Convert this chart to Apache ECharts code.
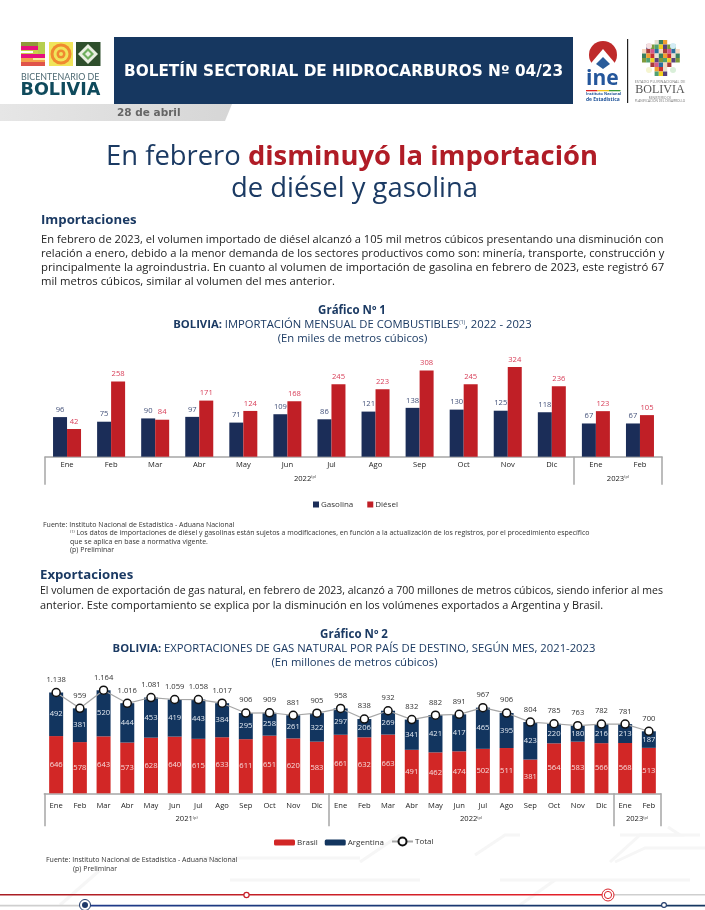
<!DOCTYPE html>
<html><head><meta charset="utf-8">
<style>html,body{margin:0;padding:0;background:#fff}#c{width:705px;height:910px}</style>
<script src="https://cdn.jsdelivr.net/npm/echarts@6/dist/echarts.min.js"></script>
</head><body><div id="c"></div>
<script>
const months1=['Ene','Feb','Mar','Abr','May','Jun','Jul','Ago','Sep','Oct','Nov','Dic','Ene','Feb'];
const gasolina=[96,75,90,97,71,109,86,121,138,130,125,118,67,67];
const diesel=[42,258,84,171,124,168,245,223,308,245,324,236,123,105];
const months2=['Ene','Feb','Mar','Abr','May','Jun','Jul','Ago','Sep','Oct','Nov','Dic','Ene','Feb','Mar','Abr','May','Jun','Jul','Ago','Sep','Oct','Nov','Dic','Ene','Feb'];
const brasil=[646,578,643,573,628,640,615,633,611,651,620,583,661,632,663,491,462,474,502,511,381,564,583,566,568,513];
const argentina=[492,381,520,444,453,419,443,384,295,258,261,322,297,206,269,341,421,417,465,395,423,220,180,216,213,187];
const totalGas=[1138,959,1164,1016,1081,1059,1058,1017,906,909,881,905,958,838,932,832,882,891,967,906,804,785,763,782,781,700];
const para1=['En febrero de 2023, el volumen importado de diésel alcanzó a 105 mil metros cúbicos presentando una disminución con',
'relación a enero, debido a la menor demanda de los sectores productivos como son: minería, transporte, construcción y',
'principalmente la agroindustria. En cuanto al volumen de importación de gasolina en febrero de 2023, este registró 67',
'mil metros cúbicos, similar al volumen del mes anterior.'];
const para2=['El volumen de exportación de gas natural, en febrero de 2023, alcanzó a 700 millones de metros cúbicos, siendo inferior al mes',
'anterior. Este comportamiento se explica por la disminución en los volúmenes exportados a Argentina y Brasil.'];
const para1Sizes=[11.13,11.17,11.33,11.3];
const para2Sizes=[10.54,10.95];

const F='"Open Sans"', NAVY='#1b3a63', AX='#a6a6a6';
const G=[];
function T(text,x,y,size,fill,o){o=o||{};G.push({type:'text',silent:true,z:o.z||5,style:Object.assign({text,x,y,fontFamily:o.family||F,fontSize:size,fontWeight:o.weight||'normal',fill,textAlign:o.align||'left',textVerticalAlign:'middle',rich:o.rich},o.extra||{})});}
function R(x,y,w,h,fill,z){G.push({type:'rect',silent:true,z:z||1,shape:{x,y,width:w,height:h},style:{fill}});}
function P(points,fill,z){G.push({type:'polygon',silent:true,z:z||2,shape:{points},style:{fill}});}
function C(cx,cy,r,fill,stroke,lw,z){G.push({type:'circle',silent:true,z:z||3,shape:{cx,cy,r},style:{fill,stroke,lineWidth:lw||0}});}
function W(points){G.push({type:'polyline',silent:true,z:0,shape:{points},style:{stroke:'#f6f6f6',lineWidth:3,fill:null}});}
const H=(s)=>({type:'linear',x:0,y:0,x2:1,y2:0,colorStops:s});

// faint watermark
W([[620,835],[680,835],[668,827]]);W([[610,862],[640,835],[700,835]]);W([[615,862],[645,848],[705,848]]);
W([[475,855],[505,835],[520,835]]);W([[200,858],[360,858]]);W([[230,880],[420,880]]);W([[500,880],[690,880]]);W([[60,905],[100,870]]);W([[520,905],[555,880]]);W([[360,862],[400,835]]);

// header
R(114,37,459,67,'#163760');
T('BOLETÍN SECTORIAL DE HIDROCARBUROS Nº 04/23',124,72,15.3,'#fff',{family:'"DejaVu Sans"',weight:700});
P([[0,104],[232,104],[225,121],[0,121]],H([{offset:0,color:'#e6e6e6'},{offset:1,color:'#d6d6d6'}]));
T('28 de abril',117,113,10.5,'#666',{weight:700,family:'"DejaVu Sans"'});

// bicentenario logo
const st1=['#8f9a3a','#e6127f','#c9d24a','#e6127f','#f3a24b','#e0544a'];
st1.forEach((c,i)=>R(21,42+i*4,24,4,c,2));
R(38,42,7,12,'#b7cf4e',3);R(21,51,12,2,'#fff',3);R(33,58,12,2,'#f7f0a0',3);
R(49,42,24,24,'#f0e45a',2);[10.5,7.5,4.5,2].forEach((r,i)=>C(61,54,r,i%2?'#f0e45a':'#f08a30',null,0,3+i));
R(76,42,24.5,24,'#2f4f2c',2);P([[88,44],[98,54],[88,64],[78,54]],'#e9efe0',3);P([[88,48],[94,54],[88,60],[82,54]],'#6fae5c',4);P([[88,51],[91,54],[88,57],[85,54]],'#e9efe0',5);
T('BICENTENARIO DE',21,76.7,8.9,'#4e6a73',{family:'Lato'});
T('BOLIVIA',20.5,90.5,17.6,'#0f4a5c',{weight:700,family:'"DejaVu Sans"'});

// INE logo
C(603,55,14,'#bf2a2a',null,0,2);
P([[586,69],[603,49],[620,69]],'#fff',3);
P([[596,64],[603,57],[610,64],[603,69]],'#2a5c9a',4);
T('ine',586,79,21,'#24569b',{weight:700});
['#d22','#f2c318','#3a9b3a'].forEach((c,i)=>R(586+i*11.5,90,11.5,1.3,c,3));
T('Instituto Nacional',586,94,3.9,'#24569b',{weight:700});
T('de Estadística',586,99.5,4.9,'#24569b',{weight:700});
R(627,39,1.2,64,'#222',2);

// plurinational logo mosaic
const mos=['#e8e0d0','#a83a3a','#f2d020','#3a7f5f','#d65a8a','#58407a','#f0a030','#2a6f9f','#7f9a3a','#c83030','#f5d7c0','#50a070'];
[[3,3],[1,7],[0,9],[0,9],[0,9],[2,5],[3,3],[3,3]].forEach((rw,r)=>{for(let c=0;c<rw[1];c++){R(642+(rw[0]+c)*4.2,40+r*4.5,4.2,4.5,mos[(r*5+c*3)%mos.length],2);}});
C(649,46,3,'#f5dfe0',null,0,3);C(673,46,3,'#d3ecf5',null,0,3);C(649,70,3,'#f5f5d0',null,0,3);C(673,70,3,'#d9efd9',null,0,3);
T('ESTADO PLURINACIONAL DE',660,82,3.8,'#777',{align:'center'});
T('BOLIVIA',660,89.5,12,'#555',{align:'center',family:'"Liberation Serif"'});
T('MINISTERIO DE',660,98,3.2,'#777',{align:'center'});
T('PLANIFICACIÓN DEL DESARROLLO',660,101.5,3.2,'#777',{align:'center'});

// headline
const HS=27.4;
T('{a|En febrero }{b|disminuyó la importación}',352,157,HS,NAVY,{align:'center',rich:{a:{fontFamily:F,fontSize:HS,fontWeight:500,fill:NAVY},b:{fontFamily:F,fontSize:HS,fontWeight:700,fill:'#b01c26'}}});
T('de diésel y gasolina',354.5,189,HS,NAVY,{align:'center',weight:500});

// section 1
T('Importaciones',41,220,13.2,NAVY,{weight:700});
para1.forEach((l,i)=>T(l,41,240+i*14,para1Sizes[i],'#222'));
T('Gráfico Nº 1',352,311,11.5,NAVY,{weight:700,align:'center'});
const TS=11.26;
const sup={b:{fontFamily:F,fontSize:TS,fontWeight:700,fill:NAVY},n:{fontFamily:F,fontSize:TS,fill:NAVY},s:{fontFamily:F,fontSize:5,fill:NAVY,padding:[0,0,5,0]}};
T('{b|BOLIVIA:}{n| IMPORTACIÓN MENSUAL DE COMBUSTIBLES}{s|(1)}{n|, 2022 - 2023}',352.5,325,TS,NAVY,{align:'center',rich:sup});
T('(En miles de metros cúbicos)',352.5,339,TS,NAVY,{align:'center'});
const note=7, NC='#333';
T('Fuente: Instituto Nacional de Estadística - Aduana Nacional',43,525,note,NC);
T('{s|(1)}{n| Los datos de importaciones de diésel y gasolinas están sujetos a modificaciones, en función a la actualización de los registros, por el procedimiento específico}',70,533,note,NC,{rich:{n:{fontFamily:F,fontSize:note,fill:NC},s:{fontFamily:F,fontSize:4,fill:NC,padding:[0,0,3,0]}}});
T('que se aplica en base a normativa vigente.',70,541.5,note,NC);
T('(p) Preliminar',70,549.5,note,NC);

// section 2
T('Exportaciones',40,575,13.2,NAVY,{weight:700});
para2.forEach((l,i)=>T(l,40,591+i*15,para2Sizes[i],'#222'));
T('Gráfico Nº 2',354,635,11.5,NAVY,{weight:700,align:'center'});
T('{b|BOLIVIA:}{n| EXPORTACIONES DE GAS NATURAL POR PAÍS DE DESTINO, SEGÚN MES, 2021-2023}',354,649,TS,NAVY,{align:'center',rich:sup});
T('(En millones de metros cúbicos)',354.5,663,TS,NAVY,{align:'center'});
T('Fuente: Instituto Nacional de Estadística - Aduana Nacional',46,860,note,NC);
T('(p) Preliminar',73,869,note,NC);

// footer
R(0,894,610,1.6,H([{offset:0,color:'#a81e24'},{offset:1,color:'#e8212a'}]),2);
R(610,894,95,1.6,'#cfcfcf',2);
R(0,904.8,85,1.6,'#cfcfcf',2);
R(85,904.8,620,1.6,H([{offset:0,color:'#1f3a8a'},{offset:1,color:'#163760'}]),2);
C(246.5,895,2.6,'#fff','#c8202a',1.2,3);
C(608,895,6,'#fff','#d8252c',1,3);C(608,895,3.6,'#fff','#d8252c',1,4);
C(85,905,5.5,'#fff','#1f3a6a',1,3);C(85,905,3,'#1f3a6a',null,0,4);
C(664,905,2.4,'#fff','#1f3a6a',1.1,3);

const LS=7.6;
const AL={fontFamily:F,fontSize:LS,fontWeight:500,color:'#222'};
const yearRich={y:{fontFamily:F,fontSize:LS,fontWeight:500,color:'#222'},s:{fontFamily:F,fontSize:4,color:'#333',padding:[0,0,3,0]}};
const yearLabel=(map)=>({show:true,customValues:Object.keys(map).map(Number),rich:yearRich,formatter:(v)=>'{y|'+map[v]+'}{s|(p)}',hideOverlap:false});
const dot=(v)=>{const s=String(v);return s.length>3?s[0]+'.'+s.slice(1):s;};

// The first chart's bars rise from the bottom of a value axis whose minimum is below zero.
const Y1_MIN=-84, BAR_BAND=0.3177;
function importSeries(name,values,color,labelColor,side){
 return {name,type:'custom',xAxisIndex:0,yAxisIndex:0,data:values.map((v,i)=>[i,v]),encode:{x:0,y:1},itemStyle:{color},
  renderItem:(params,api)=>{
   const i=api.value(0),v=api.value(1),top=api.coord([i,v]),base=api.coord([i,Y1_MIN]),w=api.size([1,0])[0]*BAR_BAND;
   return {type:'rect',shape:{x:top[0]+(side<0?-w:0),y:top[1],width:w,height:base[1]-top[1]},style:{fill:color},
    textContent:{style:{text:String(v),fill:labelColor,fontFamily:F,fontSize:LS,fontWeight:500}},textConfig:{position:'top',distance:3.5}};
  }};
}

const LT={fontFamily:F,fontSize:8,color:'#333',padding:[0,0,0,-3]};
const opt={animation:false,backgroundColor:'#fff',
 graphic:G,
 grid:[{left:45,width:617,top:361.2,height:95.5},{left:44.3,width:616.4,top:687,height:106.3}],
 legend:[
  {data:['Gasolina','Diésel'],left:313,top:500.5,padding:0,itemWidth:6,itemHeight:6,itemGap:14,icon:'rect',textStyle:LT},
  {data:['Brasil','Argentina'],left:274,top:838.5,padding:0,itemWidth:21,itemHeight:6,itemGap:7,textStyle:LT},
  {data:['Total'],left:391,top:836.5,padding:0,itemWidth:21,itemHeight:10,textStyle:LT}
 ],
 xAxis:[
  {gridIndex:0,type:'category',data:months1,axisLine:{show:true,onZero:false,lineStyle:{color:AX,width:1.5}},axisTick:{show:false},axisLabel:Object.assign({margin:4.5,interval:0},AL)},
  {gridIndex:0,type:'value',min:0,max:14,position:'bottom',axisLine:{show:false,onZero:false},splitLine:{show:false},
   axisTick:{show:true,customValues:[0,12,14],length:28,lineStyle:{color:AX,width:1.5}},
   axisLabel:Object.assign(yearLabel({5.9:'2022',13:'2023'}),{margin:18})},
  {gridIndex:1,type:'category',data:months2,axisLine:{show:true,onZero:false,lineStyle:{color:AX,width:1.5}},axisTick:{show:false},axisLabel:Object.assign({margin:9,interval:0},AL)},
  {gridIndex:1,type:'value',min:0,max:26,position:'bottom',axisLine:{show:false,onZero:false},splitLine:{show:false},
   axisTick:{show:true,customValues:[0,12,24,26],length:33,lineStyle:{color:AX,width:1.5}},
   axisLabel:Object.assign(yearLabel({6:'2021',18:'2022',25:'2023'}),{margin:22})}
 ],
 yAxis:[
  {gridIndex:0,type:'value',min:Y1_MIN,max:350,show:false},
  {gridIndex:1,type:'value',min:0,max:1200,show:false}
 ],
 series:[
  importSeries('Gasolina',gasolina,'#1b2d58','#44527a',-1),
  importSeries('Diésel',diesel,'#c01f26','#d8405a',1),
  {name:'Brasil',type:'bar',stack:'x',xAxisIndex:2,yAxisIndex:1,data:brasil,barWidth:14,itemStyle:{color:'#d22726'},label:{show:true,position:'inside',fontFamily:F,fontSize:LS,color:'#f6dcdc'}},
  {name:'Argentina',type:'bar',stack:'x',xAxisIndex:2,yAxisIndex:1,data:argentina,barWidth:14,itemStyle:{color:'#12355f'},label:{show:true,position:'inside',fontFamily:F,fontSize:LS,color:'#e2e8f0'}},
  {name:'Total',type:'line',xAxisIndex:2,yAxisIndex:1,data:totalGas,symbol:'circle',symbolSize:8,lineStyle:{color:'#a6a6a6',width:1.2},itemStyle:{color:'#fff',borderColor:'#111',borderWidth:1.5},label:{show:true,position:'top',distance:4,fontFamily:F,fontSize:LS,fontWeight:500,color:'#333',formatter:(p)=>dot(p.value)},z:5}
 ]};
const chart=echarts.init(document.getElementById('c'),null,{renderer:'canvas',width:705,height:910});
chart.setOption(opt);
</script></body></html>
